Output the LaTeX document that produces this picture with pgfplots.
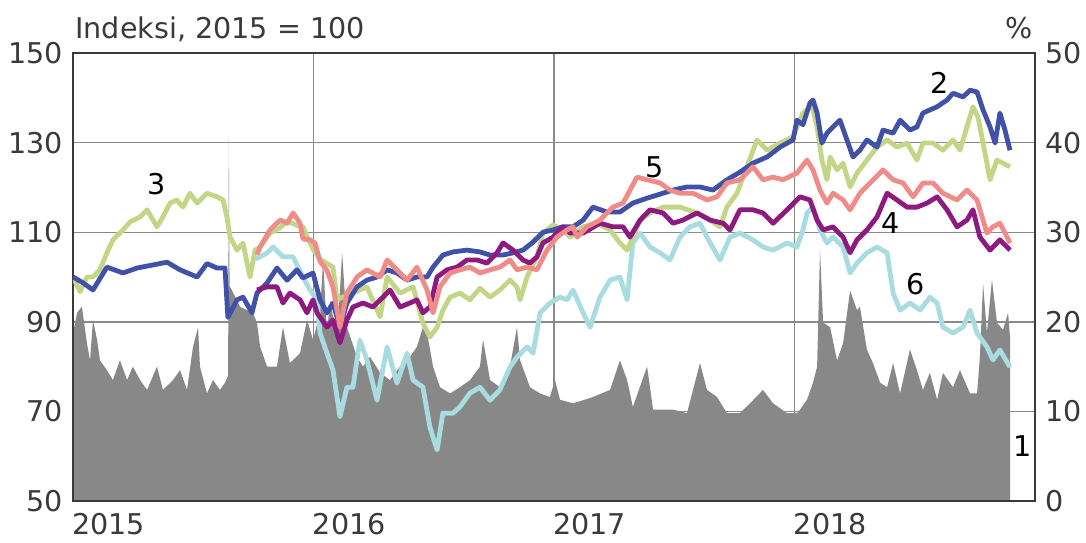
\documentclass[border=0pt]{standalone}
\usepackage{fontspec}
\setmainfont{DejaVu Sans}
\usepackage{pgfplots}
\pgfplotsset{compat=1.18}
\definecolor{txt}{HTML}{3A3A3A}
\definecolor{gridc}{HTML}{8A8A8A}
\definecolor{areac}{HTML}{888888}
\definecolor{sBlue}{HTML}{4251A8}
\definecolor{sGreen}{HTML}{C3D688}
\definecolor{sPurple}{HTML}{8E1A80}
\definecolor{sSalmon}{HTML}{F08C88}
\definecolor{sCyan}{HTML}{A9DCE0}

\begin{document}
\begin{tikzpicture}[font=\fontsize{14.3}{17}\selectfont, text=txt]
\useasboundingbox (-36.5pt,-20.5pt) rectangle (506.5pt,250.5pt);
\pgfplotsset{
  base/.style={
    scale only axis, width=481pt, height=224pt,
    at={(0,0)}, anchor=south west,
    xmin=0, xmax=4,
    major tick length=0pt,
    axis line style={draw=txt, line width=0.9pt},
    tick label style={font=\fontsize{14.3}{17}\selectfont, text=txt},
    /pgf/number format/assume math mode=true,
    clip mode=individual,
  },
}
% gray area (right axis, %), gridlines and x labels
\begin{axis}[base,
    ymin=0, ymax=50,
    ytick={0,10,20,30,40,50},
    yticklabel pos=right,
    yticklabel style={anchor=west, inner sep=0pt, xshift=5pt},
    xtick={0,1,2,3},
    xticklabels={2015,2016,2017,2018},
    xticklabel style={anchor=north west, inner sep=0pt, yshift=-6pt, xshift=-0.5pt},
    grid=major,
    major grid style={draw=gridc, line width=0.7pt},
  ]
\addplot[fill=areac, draw=none] coordinates {
(0,18.7) (0.017,21) (0.037,21.7) (0.058,17.6) (0.071,15.7) (0.083,20.2) (0.100,18)
(0.112,15.7) (0.141,14.6) (0.166,13.5) (0.195,15.7) (0.225,13.5) (0.249,15) (0.279,13.5)
(0.308,12.4) (0.349,15) (0.374,12.4) (0.416,13.5) (0.445,14.6) (0.474,12.4) (0.499,17.2)
(0.520,19.4) (0.528,15) (0.557,12) (0.582,13.5) (0.611,12.4) (0.632,13.2) (0.645,14)
(0.648,40.6) (0.651,24) (0.682,22.4) (0.694,21.7) (0.723,21.3) (0.748,21) (0.765,19.9)
(0.778,17.2) (0.807,15) (0.848,15) (0.873,19.4) (0.902,15.4) (0.944,16.5) (0.973,20.2)
(0.998,18) (1.027,21) (1.040,26.9) (1.056,18.8) (1.069,22.4) (1.098,18) (1.119,27.7)
(1.139,19.4) (1.181,16.1) (1.206,15) (1.235,16.1) (1.277,14.3) (1.318,13.5) (1.360,15)
(1.401,16.1) (1.430,17.2) (1.455,19.4) (1.472,18.8) (1.497,15) (1.526,12.7) (1.568,12)
(1.609,12.7) (1.651,13.5) (1.692,15) (1.705,18) (1.734,13.5) (1.775,12.7) (1.817,15)
(1.846,19.4) (1.859,15.7) (1.900,12.7) (1.942,12) (1.983,11.6) (2.004,13.5) (2.025,11.3)
(2.079,10.9) (2.162,11.6) (2.233,12.4) (2.274,15.7) (2.304,13.5) (2.328,10.5) (2.387,15)
(2.412,10.2) (2.495,10.2) (2.553,9.8) (2.607,15.4) (2.636,12.4) (2.678,11.6) (2.719,9.8)
(2.773,9.8) (2.815,10.9) (2.869,12.4) (2.911,10.9) (2.969,9.8) (3.010,9.8) (3.023,10.2)
(3.052,11.3) (3.077,13.2) (3.094,15) (3.106,28) (3.119,19.9) (3.148,19.4) (3.177,15.7)
(3.202,17.6) (3.231,23.5) (3.260,21.3) (3.272,21.7) (3.301,16.9) (3.326,15.4) (3.356,13.2)
(3.385,12.7) (3.410,15.4) (3.439,12) (3.480,16.9) (3.509,14.6) (3.534,12.4) (3.563,14.3)
(3.593,11.3) (3.617,14.3) (3.659,12.7) (3.688,14.6) (3.730,12) (3.759,12) (3.771,16.1)
(3.784,24.3) (3.800,18.8) (3.821,24.7) (3.842,19.9) (3.867,19.1) (3.888,21) (3.896,18.3)
} \closedcycle;
\end{axis}
% index lines (left axis)
\begin{axis}[base,
    ymin=50, ymax=150,
    ytick={50,70,90,110,130,150},
    yticklabel style={anchor=east, inner sep=0pt, xshift=-5pt},
    xtick=\empty,
    every axis plot/.append style={line width=2.4pt, line join=round},
  ]
\addplot[sCyan] coordinates {
(0.757,104) (0.778,104.5) (0.807,105.4) (0.832,106.7) (0.873,104.5) (0.915,104.5) (0.956,100)
(0.985,97.1) (1.015,94.9) (1.027,87.5) (1.056,83) (1.081,79.2) (1.110,68.8) (1.139,75.4)
(1.164,75.4) (1.193,85.9) (1.222,81.5) (1.264,72.5) (1.306,84.4) (1.347,76.3) (1.389,83)
(1.414,77) (1.455,75.4) (1.484,66.5) (1.514,61.4) (1.538,69.6) (1.580,69.6) (1.609,71)
(1.651,74.1) (1.692,75.4) (1.734,72.5) (1.775,74.8) (1.817,79.9) (1.846,82.1) (1.888,84.4)
(1.913,83) (1.942,92) (1.983,94.2) (2.025,95.5) (2.054,94.9) (2.079,97.1) (2.121,92)
(2.150,88.8) (2.191,95.5) (2.233,99.3) (2.274,100) (2.304,94.9) (2.328,107.6) (2.358,109.8)
(2.399,106.7) (2.441,105.4) (2.482,103.8) (2.524,108.9) (2.565,111.2) (2.607,112) (2.649,107.6)
(2.690,103.8) (2.732,108.9) (2.773,109.8) (2.827,108.3) (2.869,106.7) (2.911,106) (2.969,107.6)
(3.010,106.7) (3.035,110.5) (3.052,114.3) (3.077,115.6) (3.106,110.5) (3.135,107.6) (3.160,108.9)
(3.202,106.7) (3.231,100.9) (3.260,103.1) (3.301,105.4) (3.343,106.7) (3.385,105.4) (3.410,96.4)
(3.439,92.6) (3.480,94.2) (3.522,92.6) (3.563,95.5) (3.593,94.2) (3.617,88.8) (3.659,87.5)
(3.701,88.8) (3.730,92.6) (3.759,87.5) (3.800,84.4) (3.825,81.5) (3.854,83.7) (3.896,79.9)
};
\addplot[sGreen] coordinates {
(0,100) (0.029,96.7) (0.058,100) (0.083,100) (0.112,101.6) (0.141,105.4) (0.166,108.3)
(0.208,110.5) (0.237,112.3) (0.279,113.4) (0.308,115) (0.349,111.2) (0.374,113.4) (0.403,116.5)
(0.432,117.2) (0.457,115.6) (0.486,118.7) (0.516,116.5) (0.557,118.7) (0.599,117.9) (0.624,117.2)
(0.640,113.4) (0.653,108.9) (0.682,106) (0.707,107.6) (0.736,100) (0.757,106) (0.778,106.7)
(0.819,109.8) (0.861,111) (0.890,112.5) (0.931,111.5) (0.956,111.2) (0.973,109) (1.000,106)
(1.027,104) (1.081,102.2) (1.098,95) (1.164,96.4) (1.222,97.8) (1.277,91.1) (1.306,100)
(1.360,96.4) (1.414,97.8) (1.455,89.7) (1.484,86.6) (1.514,88.8) (1.538,92.6) (1.568,95.5)
(1.609,96.4) (1.651,94.9) (1.692,97.5) (1.734,95.5) (1.775,97.1) (1.817,99.3) (1.846,97.8)
(1.859,94.9) (1.888,100) (1.929,104.5) (1.954,109.8) (1.996,111.6) (2.037,110.5) (2.067,108.9)
(2.121,111.2) (2.179,112) (2.233,110.5) (2.274,107.6) (2.304,106) (2.328,108.9) (2.358,112.7)
(2.399,114.3) (2.453,115.6) (2.524,115.6) (2.595,114.3) (2.649,112.7) (2.690,111.2) (2.719,115.6)
(2.761,118.7) (2.802,124.6) (2.844,130.6) (2.886,128.3) (2.940,129.9) (2.994,131.3) (3.035,136.6)
(3.052,137.3) (3.073,138) (3.094,133.5) (3.114,126.1) (3.135,121.7) (3.148,126.8) (3.177,123.9)
(3.202,125.4) (3.231,120.1) (3.260,123.2) (3.301,126.1) (3.343,129) (3.385,130.6) (3.426,129)
(3.468,129.9) (3.509,126.1) (3.534,129.9) (3.576,129.9) (3.617,128.3) (3.659,130.6) (3.688,128.3)
(3.717,133.5) (3.742,138) (3.763,135.7) (3.784,129.9) (3.813,121.7) (3.842,126.1) (3.867,125.4)
(3.896,124.6)
};
\addplot[sBlue] coordinates {
(0,100) (0.042,98.7) (0.083,97.1) (0.141,102.2) (0.208,100.9) (0.266,102) (0.333,102.7)
(0.391,103.3) (0.445,101.6) (0.516,100) (0.557,103) (0.599,102) (0.632,102) (0.644,91)
(0.682,94.9) (0.707,95.5) (0.744,92) (0.765,96.4) (0.807,98.7) (0.848,102) (0.890,99.3)
(0.931,101.6) (0.956,99.8) (0.998,100.9) (1.027,94.9) (1.056,92) (1.081,94.2) (1.110,88.8)
(1.139,94.2) (1.181,97.8) (1.222,99.3) (1.264,100) (1.306,101.6) (1.347,100.9) (1.389,99.3)
(1.430,100) (1.472,100) (1.497,102.2) (1.538,104.9) (1.580,105.6) (1.638,106) (1.692,105.6)
(1.734,104.9) (1.788,104.9) (1.830,105.4) (1.871,106) (1.913,107.8) (1.954,110) (1.996,110.5)
(2.037,111.2) (2.079,111.2) (2.121,112.7) (2.162,115.6) (2.220,114.5) (2.274,114.5) (2.328,116.5)
(2.387,117.6) (2.453,118.7) (2.495,119.4) (2.553,120.1) (2.607,120.1) (2.661,119.4) (2.719,121.7)
(2.773,123.4) (2.827,125.4) (2.886,126.8) (2.940,129) (2.994,130.6) (3.010,135) (3.035,134)
(3.064,138.8) (3.077,139.5) (3.094,136.6) (3.114,129.9) (3.135,132.1) (3.160,133.5) (3.189,135)
(3.218,130.6) (3.243,126.8) (3.272,128.3) (3.301,130.6) (3.343,129) (3.368,132.8) (3.410,132.1)
(3.439,135) (3.480,132.8) (3.509,133.5) (3.534,136.6) (3.563,137.3) (3.593,138) (3.634,139.5)
(3.659,141) (3.701,140.2) (3.730,141.7) (3.759,141.3) (3.784,137.3) (3.813,133.5) (3.834,129.9)
(3.854,136.6) (3.875,132.8) (3.896,128.3)
};
\addplot[sPurple] coordinates {
(0.765,97.1) (0.807,97.8) (0.848,97.8) (0.873,94.2) (0.902,96.4) (0.944,94.9) (0.973,92)
(0.998,94.9) (1.015,92) (1.056,88.8) (1.081,90.4) (1.110,85.3) (1.139,90.4) (1.164,93.3)
(1.206,94.2) (1.247,93.3) (1.289,95.5) (1.318,97.1) (1.360,93.3) (1.401,94.2) (1.430,94.9)
(1.455,92) (1.484,93.3) (1.514,100) (1.555,101.6) (1.597,102.2) (1.638,103.8) (1.680,103.8)
(1.721,103.1) (1.763,105.4) (1.788,107.6) (1.830,106) (1.871,103.8) (1.900,103.1) (1.929,104.5)
(1.954,107.6) (1.996,108.9) (2.037,111.2) (2.067,109.8) (2.121,109.8) (2.191,112) (2.245,111.2)
(2.287,111.2) (2.316,108.9) (2.358,112.7) (2.399,115) (2.453,114.3) (2.495,112) (2.536,112.7)
(2.595,114.3) (2.649,112.7) (2.703,112) (2.732,110.5) (2.773,115) (2.827,115) (2.869,114.3)
(2.911,112) (2.969,115) (3.023,117.9) (3.064,117.2) (3.094,112.7) (3.119,110.5) (3.160,111.2)
(3.202,108.9) (3.231,105.4) (3.260,108.3) (3.301,110.5) (3.343,113.4) (3.385,118.7) (3.426,117.2)
(3.468,115.6) (3.509,115.6) (3.551,116.5) (3.593,117.9) (3.634,115) (3.676,111.2) (3.717,112.7)
(3.742,115) (3.771,108.9) (3.813,106) (3.854,108.3) (3.896,106)
};
\addplot[sSalmon] coordinates {
(0.765,105) (0.778,106.7) (0.819,110.5) (0.861,112.7) (0.890,112) (0.915,114.3) (0.944,112)
(0.956,108.5) (0.985,108.3) (1.006,107.6) (1.027,103.5) (1.056,101.5) (1.081,97.8) (1.110,88.8)
(1.139,96.4) (1.181,100) (1.222,101.6) (1.277,100) (1.306,103.8) (1.347,101.6) (1.389,99.3)
(1.430,102.2) (1.472,97.1) (1.497,92) (1.526,97.8) (1.568,100.9) (1.609,101.6) (1.651,102.2)
(1.692,100.9) (1.734,101.6) (1.775,102.2) (1.817,103.8) (1.846,101.6) (1.888,102.2) (1.929,101.6)
(1.971,106) (2.012,108.9) (2.054,110.5) (2.079,111.2) (2.096,108.9) (2.137,111.2) (2.191,112.7)
(2.245,115.6) (2.287,116.5) (2.316,119.4) (2.345,122.3) (2.387,121.7) (2.441,121) (2.482,119.4)
(2.524,118.7) (2.578,118.7) (2.636,117.2) (2.678,117.9) (2.719,121) (2.773,121.7) (2.827,124.6)
(2.869,121.7) (2.911,122.3) (2.952,121.7) (3.010,123.2) (3.052,126.1) (3.077,123.9) (3.106,119.4)
(3.135,116.5) (3.160,118.7) (3.202,117.2) (3.231,115) (3.272,118.7) (3.314,121) (3.368,123.9)
(3.410,121.7) (3.451,121) (3.493,117.9) (3.534,121) (3.576,121) (3.617,118.7) (3.676,117.2)
(3.717,119.4) (3.759,117.2) (3.800,109.8) (3.825,111.2) (3.854,112) (3.884,108.9) (3.896,107.6)
};
\node[anchor=base west, inner sep=0pt, xshift=1pt, yshift=7pt] at (rel axis cs:0,1) {Indeksi, 2015 = 100};
\node[anchor=base east, inner sep=0pt, xshift=-1pt, yshift=7pt] at (rel axis cs:1,1) {\%};
\node[text=black] at (axis cs:3.605,143.3) {2};
\node[text=black] at (axis cs:0.349,120.8) {3};
\node[text=black] at (axis cs:3.401,112.1) {4};
\node[text=black] at (axis cs:2.420,124.6) {5};
\node[text=black] at (axis cs:3.505,98.4) {6};
\node[text=black] at (axis cs:3.950,62.3) {1};
\end{axis}
\end{tikzpicture}
\end{document}
